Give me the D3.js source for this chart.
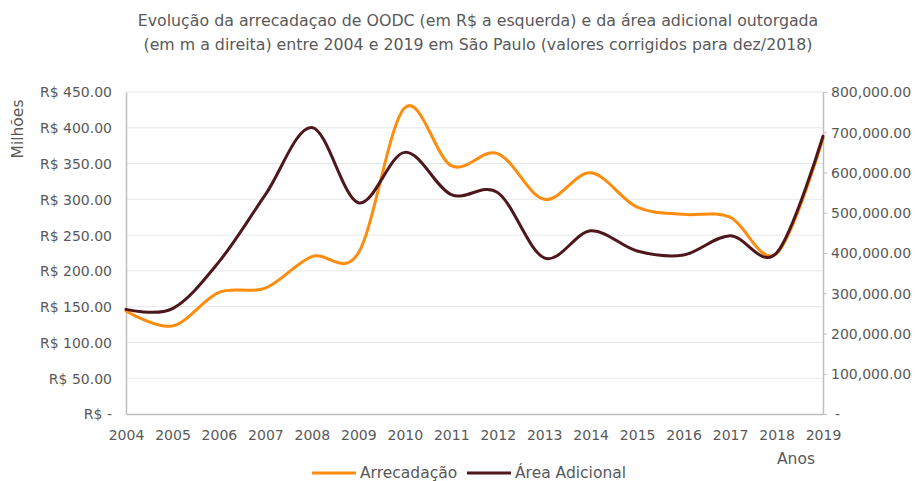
<!doctype html>
<html lang="pt-BR">
<head>
<meta charset="utf-8" />
<title>Arrecadação OODC e área adicional</title>
<script src="https://cdn.jsdelivr.net/npm/d3@7"></script>
<style>
	body { margin: 0; background: #fff; }
	svg text { font-family: "DejaVu Sans", sans-serif; fill: #595959; }
</style>
</head>
<body>
<div id="chart"></div>
<script>
	// data
	const years = [2004, 2005, 2006, 2007, 2008, 2009, 2010, 2011, 2012, 2013, 2014, 2015, 2016, 2017, 2018, 2019];
	const arrecadacao = [144, 123, 170, 176, 220, 225, 428, 347, 364, 300, 337, 289, 279, 275, 224, 385]; // R$ milhões
	const areaAdicional = [260000, 262000, 378000, 545000, 712000, 525000, 650000, 545000, 550000, 388000, 455000, 405000, 395000, 443000, 400000, 690000]; // m²
	const leftTicks = [0, 50, 100, 150, 200, 250, 300, 350, 400, 450];
	const rightTicks = [0, 100000, 200000, 300000, 400000, 500000, 600000, 700000, 800000];
	const titleLines = [
		"Evolução da arrecadaçao de OODC (em R$ a esquerda) e da área adicional outorgada",
		"(em m a direita) entre 2004 e 2019 em São Paulo (valores corrigidos para dez/2018)"
	];

	const W = 917, H = 481;
	const M = { LEFT: 126, RIGHT: 94, TOP: 92, BOTTOM: 67 };
	const ORANGE = "#fd8c0f";
	const DARK = "#4d171c";

	const svg = d3.select("#chart").append("svg").attr("width", W).attr("height", H);

	const x = d3.scaleLinear().domain([2004, 2019]).range([M.LEFT, W - M.RIGHT]);
	const yL = d3.scaleLinear().domain([0, 450]).range([H - M.BOTTOM, M.TOP]);
	const yR = d3.scaleLinear().domain([0, 800000]).range([H - M.BOTTOM, M.TOP]);

	// title
	svg.append("g").selectAll("text").data(titleLines).join("text")
		.attr("x", 478).attr("y", (d, i) => 26 + i * 24)
		.attr("text-anchor", "middle").style("font-size", "15.8px")
		.text((d) => d);

	// gridlines
	svg.append("g").selectAll("line").data(leftTicks.slice(1)).join("line")
		.attr("x1", M.LEFT).attr("x2", W - M.RIGHT)
		.attr("y1", (d) => yL(d)).attr("y2", (d) => yL(d))
		.attr("stroke", "#e6e6e6").attr("stroke-width", 1);

	// left axis
	const fmtL = (d) => (d === 0 ? "R$ -" : "R$ " + d3.format(".2f")(d));
	const axL = svg.append("g").attr("transform", `translate(${M.LEFT},0)`)
		.call(d3.axisLeft(yL).tickValues(leftTicks).tickFormat(fmtL).tickSize(0).tickPadding(14));
	axL.select(".domain").attr("stroke", "#bfbfbf").attr("stroke-width", 1.5);
	axL.selectAll("text").style("font-size", "14px").style("fill", "#595959").attr("dy", "0.35em");

	// right axis
	const fmtR = (d) => (d === 0 ? "-" : d3.format(",.2f")(d));
	const axR = svg.append("g").attr("transform", `translate(${W - M.RIGHT},0)`)
		.call(d3.axisRight(yR).tickValues(rightTicks).tickFormat(fmtR).tickSize(4).tickSizeOuter(0).tickPadding(4));
	axR.select(".domain").attr("stroke", "#bfbfbf").attr("stroke-width", 1.5);
	axR.selectAll(".tick line").attr("stroke", "#bfbfbf");
	axR.selectAll("text").style("font-size", "14px").style("fill", "#595959").attr("dy", "0.35em");
	axR.selectAll(".tick").filter((d) => d === 0).select("text").attr("x", 12);

	// bottom axis
	const axB = svg.append("g").attr("transform", `translate(0,${H - M.BOTTOM})`)
		.call(d3.axisBottom(x).tickValues(years).tickFormat(d3.format("d")).tickSize(0).tickPadding(16));
	axB.select(".domain").attr("stroke", "#bfbfbf").attr("stroke-width", 1.5);
	axB.selectAll("text").style("font-size", "14px").style("fill", "#595959");

	// axis titles
	svg.append("text").attr("transform", "translate(23,129) rotate(-90)")
		.attr("text-anchor", "middle").style("font-size", "15.5px").text("Milhões");
	svg.append("text").attr("x", 796).attr("y", 464)
		.attr("text-anchor", "middle").style("font-size", "15.5px").text("Anos");

	// lines
	const curve = d3.curveCardinal.tension(0);
	const lineL = d3.line().x((d, i) => x(years[i])).y((d) => yL(d)).curve(curve);
	const lineR = d3.line().x((d, i) => x(years[i])).y((d) => yR(d)).curve(curve);
	svg.append("path").datum(arrecadacao).attr("d", lineL)
		.attr("fill", "none").attr("stroke", ORANGE).attr("stroke-width", 3).attr("stroke-linecap", "round");
	svg.append("path").datum(areaAdicional).attr("d", lineR)
		.attr("fill", "none").attr("stroke", DARK).attr("stroke-width", 3).attr("stroke-linecap", "round");

	// legend
	const legend = [
		{ name: "Arrecadação", color: ORANGE, x: 312 },
		{ name: "Área Adicional", color: DARK, x: 467 }
	];
	const lg = svg.append("g").selectAll("g").data(legend).join("g")
		.attr("transform", (d) => `translate(${d.x},473)`);
	lg.append("line").attr("x1", 0).attr("x2", 44).attr("stroke", (d) => d.color).attr("stroke-width", 3);
	lg.append("text").attr("x", 48).attr("dy", "0.35em").style("font-size", "15.5px").text((d) => d.name);
</script>
</body>
</html>
